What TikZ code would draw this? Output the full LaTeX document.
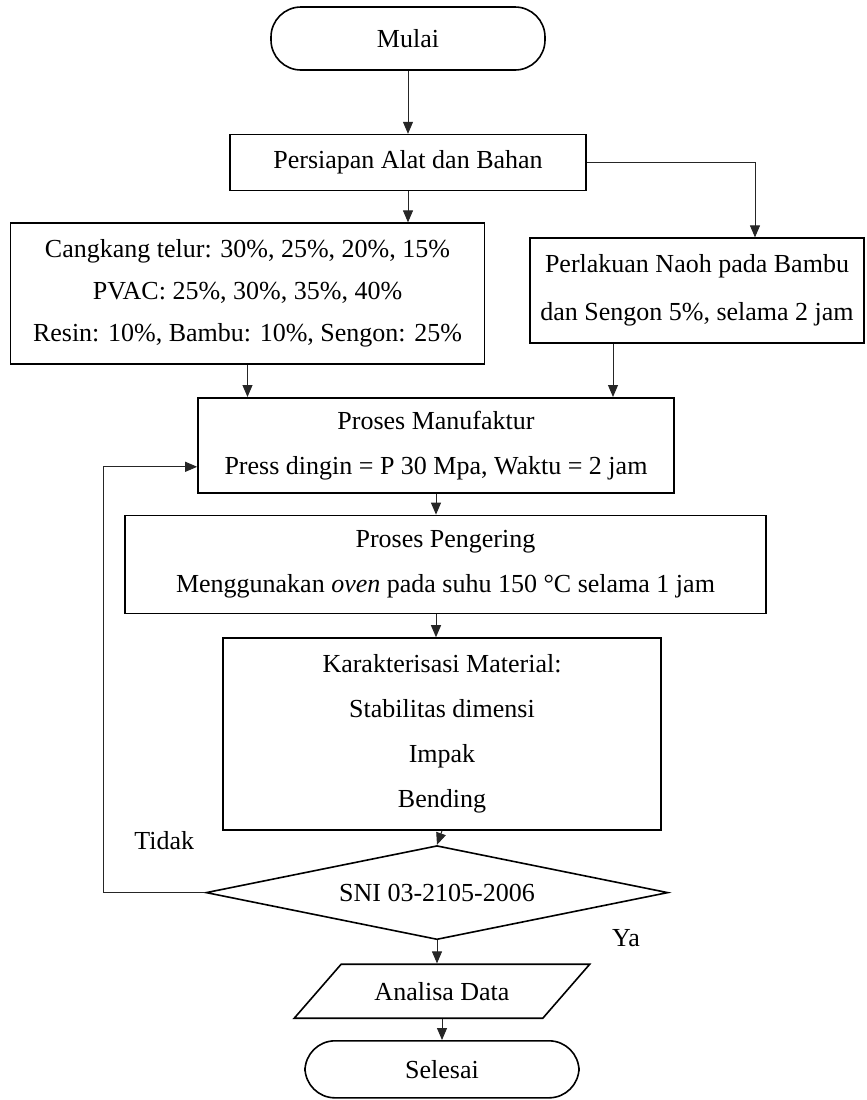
\documentclass[tikz,border=0pt]{standalone}
\usepackage{fontspec}
\setmainfont{Liberation Serif}
\usetikzlibrary{shapes.geometric, arrows.meta, positioning, calc}

\begin{document}
\begin{tikzpicture}[
    font=\fontsize{13pt}{22.5pt}\selectfont,
    >={Triangle[length=6pt,width=5pt]},
    % Standard Process Block
    process/.style={
        draw=black,
        rectangle,
        line width=0.8pt,
        align=center,
        inner sep=4pt
    },
    % Start / End Node
    terminal/.style={
        draw=black,
        rectangle,
        rounded corners=15pt,
        line width=0.8pt,
        minimum width=137pt,
        minimum height=31.5pt
    },
    % Decision Diamond Style
    decision/.style={
        draw=black,
        diamond,
        aspect=4.9,
        line width=0.8pt,
        inner sep=0pt,
        minimum width=231pt,
        minimum height=47pt
    },
    % Data Node
    datanode/.style={
        draw=black,
        trapezium,
        trapezium left angle=42.5,
        trapezium right angle=137.5,
        trapezium stretches=true,
        line width=0.8pt,
        minimum width=148pt,
        minimum height=27pt
    },
    % Arrow Connection Style
    arrow/.style={
        draw=black!85,
        ->,
        line width=0.5pt
    }
]

    \useasboundingbox (0,0) rectangle (433.5pt,-550pt);

    % Preparation
    \node (mulai) [terminal] at (204pt,-19.25pt) {Mulai};
    \node (persiapan) [process, below=31.5pt of mulai, minimum width=178pt, minimum height=28pt] {Persiapan Alat dan Bahan};
    \node (bahan) [process, below=15.5pt of persiapan, xshift=-80.25pt, minimum width=237pt, minimum height=70.5pt,
        font=\fontsize{13pt}{21pt}\selectfont] {Cangkang telur: 30\%, 25\%, 20\%, 15\%\\PVAC: 25\%, 30\%, 35\%, 40\%\\Resin: 10\%, Bambu: 10\%, Sengon: 25\%};
    \node (naoh) [process, below=23pt of persiapan, xshift=144.5pt, minimum width=167pt, minimum height=52.5pt,
        font=\fontsize{13pt}{24pt}\selectfont] {Perlakuan Naoh pada Bambu\\dan Sengon 5\%, selama 2 jam};

    % Manufacturing and testing
    \node (manufaktur) [process, below=16pt of bahan, xshift=94.25pt, minimum width=238pt, minimum height=47.5pt] {Proses Manufaktur\\Press dingin = P 30 Mpa, Waktu = 2 jam};
    \node (pengering) [process, below=10.5pt of manufaktur, xshift=4.75pt, minimum width=320.5pt, minimum height=49pt] {Proses Pengering\\Menggunakan \textit{oven} pada suhu 150 °C selama 1 jam};
    \node (karakter) [process, below=11.5pt of pengering, xshift=-1.75pt, minimum width=219pt, minimum height=96pt] {Karakterisasi Material:\\Stabilitas dimensi\\Impak\\Bending};
    \node (sni) [decision, below=7pt of karakter, xshift=-2.5pt] {SNI 03-2105-2006};
    \node (analisa) [datanode, below=11.5pt of sni, xshift=2.5pt] {Analisa Data};
    \node (selesai) [terminal, below=10.5pt of analisa, minimum height=28.5pt] {Selesai};

    % Decision labels
    \node (tidak) at ($(sni.west)+(-20.5pt,26pt)$) {Tidak};
    \node (ya) at ($(sni.south)+(94.5pt,1pt)$) {Ya};

    % Connector Arrows
    \draw [arrow] (mulai.south -| persiapan.north) -- (persiapan.north);
    \draw [arrow] (persiapan.south) -- (persiapan.south |- bahan.north);
    \draw [arrow] (persiapan.east) -| ([xshift=29pt]naoh.north);
    \draw [arrow] (bahan.south) -- (bahan.south |- manufaktur.north);
    \draw [arrow] ([xshift=-42pt]naoh.south) -- ([xshift=-42pt]naoh.south |- manufaktur.north);
    \draw [arrow] (manufaktur.south) -- (manufaktur.south |- pengering.north);
    \draw [arrow] (manufaktur.south |- pengering.south) -- (manufaktur.south |- karakter.north);
    \draw [arrow] (karakter.south) -- (sni.north);
    \draw [arrow] (sni.south) -- (sni.south |- analisa.north);
    \draw [arrow] (analisa.south) -- (analisa.south |- selesai.north);
    \draw [arrow] (sni.west) -- ++(-51pt,0) |- ([yshift=-10.75pt]manufaktur.west);

\end{tikzpicture}
\end{document}
